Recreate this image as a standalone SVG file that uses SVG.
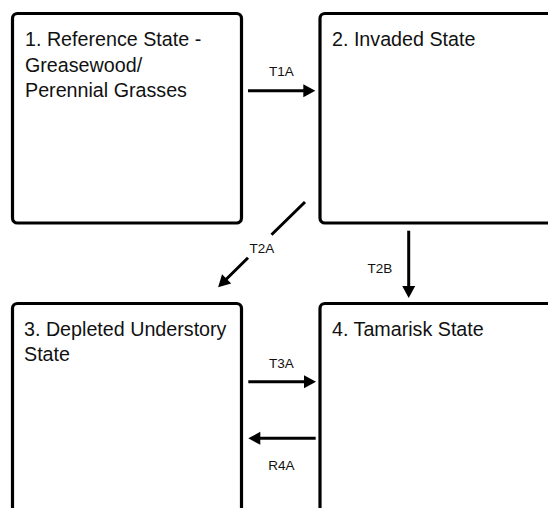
<svg xmlns="http://www.w3.org/2000/svg" width="548" height="508" viewBox="0 0 548 508">
<style>
.box{fill:#fff;stroke:#000;stroke-width:3.2}
.t{font-family:"Liberation Sans",Arial,sans-serif;font-size:19.7px;fill:#111}
.lb{font-family:"Liberation Sans",Arial,sans-serif;font-size:13.5px;fill:#111;text-anchor:middle}
.c{fill:none;stroke:#000;stroke-width:3}
</style>
<defs>
<marker id="ah" markerUnits="userSpaceOnUse" markerWidth="12" markerHeight="13" refX="2" refY="6.5" orient="auto" overflow="visible">
<path d="M0,0 L12,6.5 L0,13 z" fill="#000"/>
</marker>
</defs>
<rect width="548" height="508" fill="#fff"/>
<g id="node1">
<rect class="box" x="12.5" y="13.5" width="229" height="209.5" rx="5"/>
<text class="t" x="25" y="46">1. Reference State -</text>
<text class="t" x="25" y="71.5">Greasewood/</text>
<text class="t" x="25" y="97">Perennial Grasses</text>
</g>
<g id="node2">
<rect class="box" x="320" y="13.5" width="240" height="209.5" rx="5"/>
<text class="t" x="332" y="46">2. Invaded State</text>
</g>
<g id="node3">
<rect class="box" x="12.5" y="303.5" width="229" height="220" rx="5"/>
<text class="t" x="24" y="335.5">3. Depleted Understory</text>
<text class="t" x="24" y="360.5">State</text>
</g>
<g id="node4">
<rect class="box" x="320" y="303.5" width="240" height="220" rx="5"/>
<text class="t" x="332" y="335.5">4. Tamarisk State</text>
</g>
<g id="connectors">
<path class="c" d="M248,90.7 L305.3,90.7" marker-end="url(#ah)"/>
<text class="lb" x="281.5" y="76">T1A</text>
<path class="c" d="M305,202 L271.5,234.7 M248,257.7 L225.2,280.3" marker-end="url(#ah)"/>
<text class="lb" x="262" y="253">T2A</text>
<path class="c" d="M408.7,230.7 L408.7,288" marker-end="url(#ah)"/>
<text class="lb" x="380" y="273">T2B</text>
<path class="c" d="M248.3,381.7 L306,381.7" marker-end="url(#ah)"/>
<text class="lb" x="281.5" y="368">T3A</text>
<path class="c" d="M315.7,438.3 L258.3,438.3" marker-end="url(#ah)"/>
<text class="lb" x="281.5" y="470">R4A</text>
</g>
</svg>
